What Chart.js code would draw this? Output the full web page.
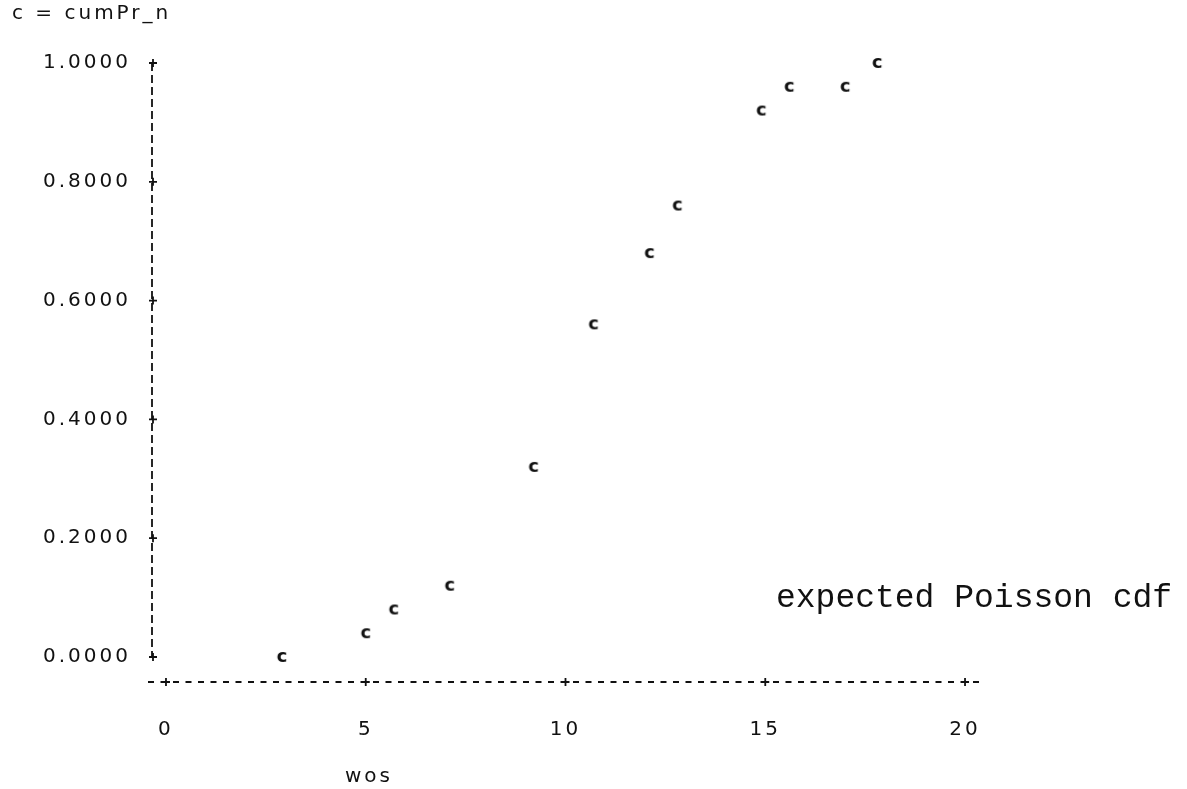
<!DOCTYPE html>
<html>
<head>
<meta charset="utf-8">
<title>cumPr_n by wos</title>
<script src="https://cdn.jsdelivr.net/npm/chart.js@4/dist/chart.umd.min.js"></script>
<style>
  html, body { margin: 0; padding: 0; background: #ffffff; }
  canvas { display: block; }
</style>
</head>
<body>
<canvas id="plot" width="1187" height="789"></canvas>
<script>
// Observed cumulative proportion (plotted with the symbol "c") against wos
const wos    = [2.9, 5.0, 5.7, 7.1, 9.2, 10.7, 12.1, 12.8, 14.9, 15.6, 17.0, 17.8];
const cumPrN = [0.00, 0.04, 0.08, 0.12, 0.32, 0.56, 0.68, 0.76, 0.92, 0.96, 0.96, 1.00];

// Axis ticks
const xTickValues = [0, 5, 10, 15, 20];
const xTickLabels = ['0', '5', '10', '15', '20'];
const yTickValues = [0, 0.2, 0.4, 0.6, 0.8, 1.0];
const yTickLabels = ['0.0000', '0.2000', '0.4000', '0.6000', '0.8000', '1.0000'];

// Texts
const legendText = 'c = cumPr_n';
const xTitle = 'wos';
const noteText = 'expected Poisson cdf';
const plotSymbol = 'c';

const INK = '#111111';
const SANS = '"DejaVu Sans", sans-serif';
const SPACING = '3px';
const LABEL_SIZE = 20;

// Plot symbol rendered once and used as the point style
function symbolCanvas(ch) {
  const c = document.createElement('canvas');
  c.width = 26; c.height = 26;
  const g = c.getContext('2d');
  g.fillStyle = INK;
  g.font = 'bold 18px ' + SANS;
  g.textAlign = 'center';
  g.textBaseline = 'alphabetic';
  g.fillText(ch, 13, 17.8);
  return c;
}

// Line-printer style axes: dashed rules with "+" at each tick
const printerAxes = {
  id: 'printerAxes',
  beforeDraw(chart) {
    chart.ctx.letterSpacing = SPACING;
  },
  afterDraw(chart) {
    const { ctx, chartArea, scales } = chart;
    const x = scales.x, y = scales.y;
    ctx.save();
    ctx.strokeStyle = INK;
    ctx.fillStyle = INK;
    ctx.lineWidth = 1.8;

    const yTop = y.getPixelForValue(yTickValues[yTickValues.length - 1]);
    const yBot = y.getPixelForValue(yTickValues[0]);
    const ax = chartArea.left;

    ctx.setLineDash([8, 4]);
    ctx.beginPath();
    ctx.moveTo(ax, yTop);
    ctx.lineTo(ax, yBot);
    ctx.stroke();

    ctx.setLineDash([6, 6.5]);
    ctx.beginPath();
    ctx.moveTo(ax - 4, chartArea.bottom);
    ctx.lineTo(chartArea.right, chartArea.bottom);
    ctx.stroke();
    ctx.setLineDash([]);

    const cross = (cx, cy) => {
      ctx.beginPath();
      ctx.moveTo(cx - 4, cy); ctx.lineTo(cx + 4, cy);
      ctx.moveTo(cx, cy - 4); ctx.lineTo(cx, cy + 4);
      ctx.stroke();
    };
    yTickValues.forEach(v => cross(ax + 1, y.getPixelForValue(v)));
    xTickValues.forEach(v => cross(x.getPixelForValue(v), chartArea.bottom));

    // axis variable name
    ctx.letterSpacing = SPACING;
    ctx.font = LABEL_SIZE + 'px ' + SANS;
    ctx.textAlign = 'center';
    ctx.textBaseline = 'middle';
    ctx.fillText(xTitle, chartArea.left + 217, chartArea.bottom + 95);

    // reference curve note
    ctx.letterSpacing = '0px';
    ctx.font = '33px "Liberation Mono", monospace';
    ctx.textAlign = 'left';
    ctx.textBaseline = 'alphabetic';
    ctx.fillText(noteText, chartArea.left + 624, chartArea.bottom - 75);

    ctx.restore();
    ctx.letterSpacing = SPACING;
  }
};

new Chart(document.getElementById('plot'), {
  type: 'scatter',
  data: {
    datasets: [{
      label: legendText,
      data: wos.map((w, i) => ({ x: w, y: cumPrN[i] })),
      pointStyle: symbolCanvas(plotSymbol),
      pointRadius: 8,
      clip: false
    }]
  },
  options: {
    responsive: false,
    devicePixelRatio: 1,
    animation: false,
    events: [],
    layout: { padding: { top: 0, left: 12, right: 202, bottom: 0 } },
    plugins: {
      legend: { display: false },
      tooltip: { enabled: false },
      title: {
        display: true,
        text: legendText,
        align: 'start',
        color: INK,
        font: { family: SANS, size: LABEL_SIZE, weight: 'normal', lineHeight: 1.2 },
        padding: { top: 2, bottom: 37 }
      }
    },
    scales: {
      x: {
        type: 'linear',
        min: -0.35,
        max: 20.5,
        afterBuildTicks(scale) { scale.ticks = xTickValues.map(v => ({ value: v })); },
        afterFit(scale) { scale.height = 107; },
        grid: { display: false, drawTicks: false },
        border: { display: false },
        ticks: {
          autoSkip: false,
          maxRotation: 0,
          padding: 36,
          color: INK,
          font: { family: SANS, size: LABEL_SIZE },
          callback: (v, i) => xTickLabels[i]
        }
      },
      y: {
        type: 'linear',
        min: -0.0421,
        max: 1.0,
        afterBuildTicks(scale) { scale.ticks = yTickValues.map(v => ({ value: v })); },
        afterFit(scale) { scale.width = 140; },
        grid: { display: false, drawTicks: false },
        border: { display: false },
        ticks: {
          autoSkip: false,
          padding: 21,
          color: INK,
          font: { family: SANS, size: LABEL_SIZE },
          callback: (v, i) => yTickLabels[i]
        }
      }
    }
  },
  plugins: [printerAxes]
});
</script>
</body>
</html>
